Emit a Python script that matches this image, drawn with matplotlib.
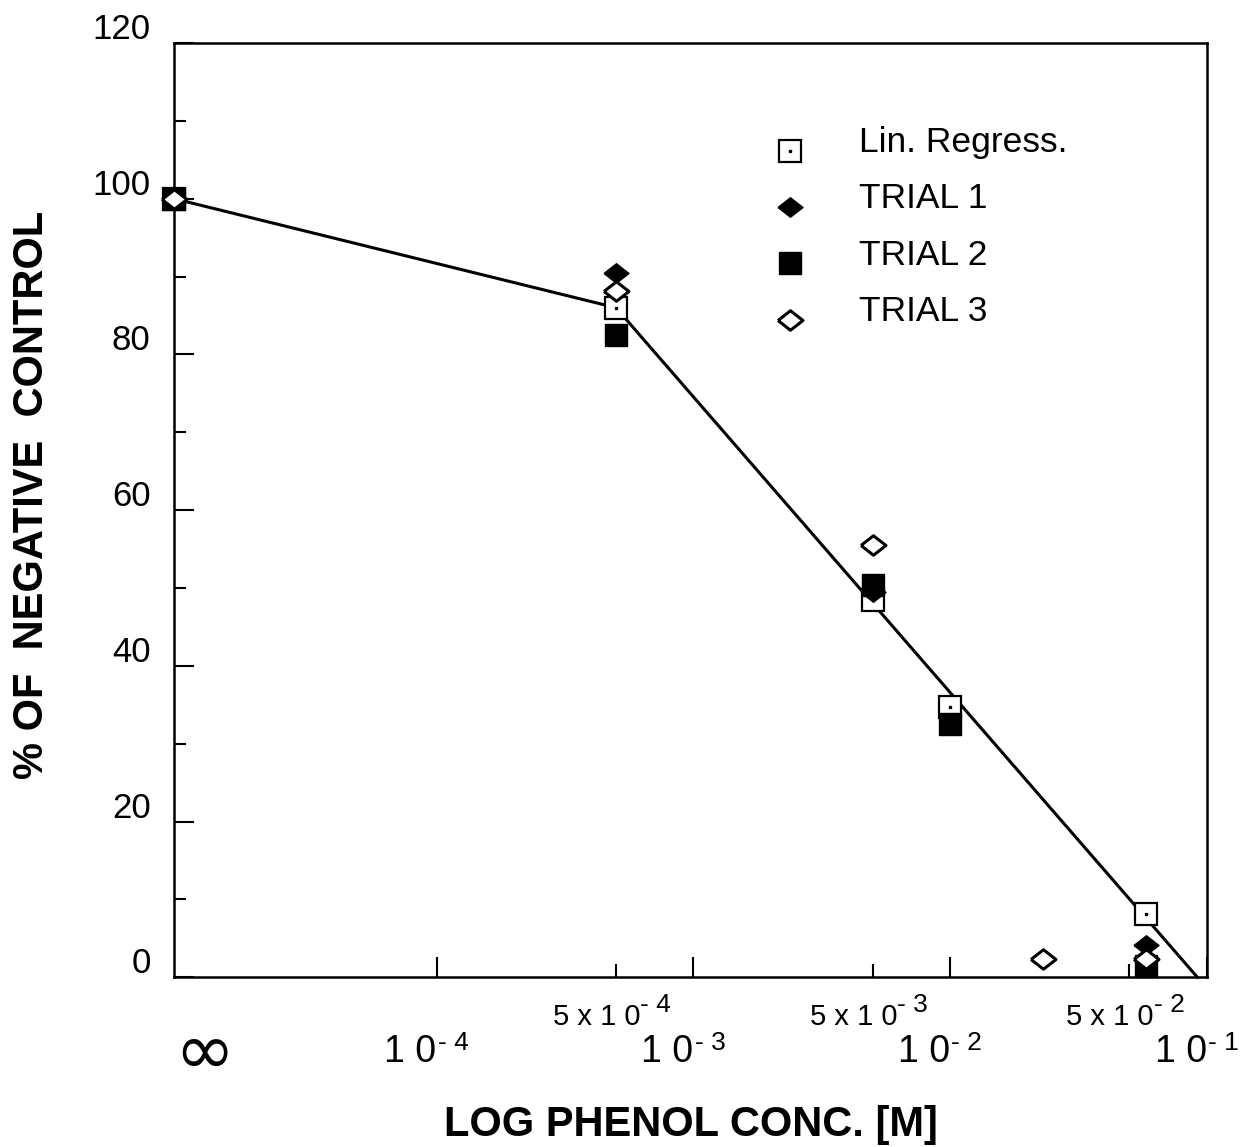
#!/usr/bin/env python3
"""
Phenol dose-response: % of negative control vs log phenol concentration.
"""

import matplotlib
matplotlib.use('Agg')
import matplotlib.pyplot as plt
import matplotlib.transforms as mtransforms
from matplotlib.ticker import FixedLocator, NullFormatter, MultipleLocator
from matplotlib.legend_handler import HandlerTuple

plt.rcParams['font.family'] = ['Liberation Sans', 'DejaVu Sans']

# x = 0 (control) is drawn at the left edge and labelled with infinity
CONTROL_X = 9.5e-6

# Lin. Regress. (open square with centre dot)
lin_x = [CONTROL_X, 5e-4, 5e-3, 1e-2, 5.8e-2]
lin_y = [100, 86, 48.5, 34.7, 8.1]

# regression line vertices
fit_x = [CONTROL_X, 5e-4, 9.2e-2]
fit_y = [100, 86, 0]

# TRIAL 1 (filled diamond)
t1_x = [CONTROL_X, 5e-4, 5e-3, 5.8e-2]
t1_y = [100, 90.5, 49.5, 4.2]

# TRIAL 2 (filled square)
t2_x = [CONTROL_X, 5e-4, 5e-3, 1e-2, 5.8e-2]
t2_y = [100, 82.5, 50.4, 32.5, 1.5]

# TRIAL 3 (open diamond)
t3_x = [CONTROL_X, 5e-4, 5e-3, 2.3e-2, 5.8e-2]
t3_y = [100, 88.2, 55.5, 2.4, 2.4]

# x tick positions and labels (base, exponent)
major_x = [1e-4, 1e-3, 1e-2, 1e-1]
major_exp = ['- 4', '- 3', '- 2', '- 1']
minor_x = [5e-4, 5e-3, 5e-2]
minor_exp = ['- 4', '- 3', '- 2']

y_ticks = [0, 20, 40, 60, 80, 100, 120]

fig = plt.figure(figsize=(12.44, 11.47), dpi=100)
ax = fig.add_axes([0.140, 0.148, 0.830, 0.8145])

diamond = [(-1, 0), (0, 0.78), (1, 0), (0, -0.78), (-1, 0)]

ax.plot(fit_x, fit_y, '-', color='black', linewidth=2.2, zorder=2, clip_on=False)
lin_h, = ax.plot(lin_x, lin_y, 's', markersize=16.5, markerfacecolor='white',
                 markeredgecolor='black', markeredgewidth=1.6, linestyle='none',
                 zorder=3, clip_on=False)
dot_h, = ax.plot(lin_x, lin_y, 's', markersize=1.8, color='black', linestyle='none',
                 zorder=3, clip_on=False)
t2_h, = ax.plot(t2_x, t2_y, 's', markersize=16.5, color='black', linestyle='none',
                zorder=4, clip_on=False)
t1_h, = ax.plot(t1_x, t1_y, marker=diamond, markersize=18, color='black',
                linestyle='none', zorder=5, clip_on=False)
t3_h, = ax.plot(t3_x, t3_y, marker=diamond, markersize=18, markerfacecolor='white',
                markeredgecolor='black', markeredgewidth=2.2, linestyle='none',
                zorder=6, clip_on=False)

ax.set_xscale('log')
ax.set_xlim(CONTROL_X, 1e-1)
ax.set_ylim(0, 120)

# spines / ticks
for s in ax.spines.values():
    s.set_linewidth(1.8)
    s.set_zorder(2.5)
ax.xaxis.set_major_locator(FixedLocator(major_x))
ax.xaxis.set_minor_locator(FixedLocator(minor_x))
ax.xaxis.set_major_formatter(NullFormatter())
ax.xaxis.set_minor_formatter(NullFormatter())
ax.tick_params(axis='x', which='major', direction='in', length=14.5, width=1.5, top=False)
ax.tick_params(axis='x', which='minor', direction='in', length=9.5, width=1.5, top=False)

ax.set_yticks(y_ticks)
ax.yaxis.set_minor_locator(MultipleLocator(10))
ax.tick_params(axis='y', which='major', direction='in', length=14.5, width=1.5,
               right=False, labelsize=25, pad=17)
ax.tick_params(axis='y', which='minor', direction='in', length=8.5, width=1.5, right=False)
# tick labels sit a bit above their ticks in the original
shift = mtransforms.ScaledTranslation(0, 17 / 100, fig.dpi_scale_trans)
for lab in ax.get_yticklabels():
    lab.set_transform(lab.get_transform() + shift)

# staggered x labels with small raised exponents
trans = mtransforms.blended_transform_factory(ax.transData, ax.transAxes)
for xv, ex in zip(major_x, major_exp):
    base = ax.text(xv, -0.091, '1 0', transform=trans, ha='right', va='baseline',
                   fontsize=27, clip_on=False)
    ax.annotate(ex, xy=(1.0, 0.42), xycoords=base, xytext=(1, 0),
                textcoords='offset points', ha='left', va='bottom', fontsize=19)
for xv, ex in zip(minor_x, minor_exp):
    base = ax.annotate('5 x 1 0', xy=(xv, -0.0514), xycoords=trans, xytext=(-14, 0),
                       textcoords='offset points', ha='center', va='baseline',
                       fontsize=21, annotation_clip=False)
    ax.annotate(ex, xy=(1.0, 0.5), xycoords=base, xytext=(0, 0),
                textcoords='offset points', ha='left', va='bottom', fontsize=19)
ax.text(CONTROL_X, -0.0835, '\u221e', transform=trans, ha='left', va='center',
        fontsize=52, family=['Noto Sans', 'DejaVu Sans'], clip_on=False)

fig.text(0.5555, 0.019, 'LOG PHENOL CONC. [M]', ha='center', va='center',
         fontsize=30, fontweight='bold')
fig.text(0.0257, 0.5684, '% OF  NEGATIVE  CONTROL', ha='center', va='center',
         rotation=90, fontsize=30, fontweight='bold')

leg = ax.legend([(lin_h, dot_h), t1_h, t2_h, t3_h],
                ['Lin. Regress.', 'TRIAL 1', 'TRIAL 2', 'TRIAL 3'],
                handler_map={tuple: HandlerTuple(ndivide=1)},
                loc='upper left', bbox_to_anchor=(0.6206, 0.8806),
                bbox_transform=fig.transFigure,
                frameon=False, fontsize=25.5, handlelength=1.0, handletextpad=1.45,
                labelspacing=0.66, borderpad=0, borderaxespad=0)
# legend text sits a little above its marker in the original
lift = mtransforms.ScaledTranslation(0, 11 / 100, fig.dpi_scale_trans)
for t in leg.get_texts():
    t.set_transform(t.get_transform() + lift)

plt.savefig('out.png', dpi=100)
